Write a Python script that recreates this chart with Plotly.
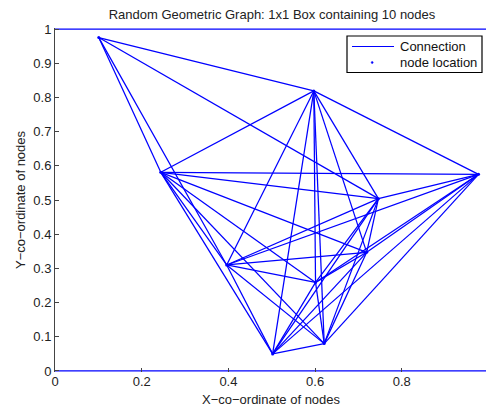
import plotly.graph_objects as go

# Node coordinates in the unit square
node_x = [0.101, 0.597, 0.244, 0.977, 0.746, 0.396, 0.719, 0.601, 0.621, 0.502]
node_y = [0.975, 0.819, 0.581, 0.575, 0.504, 0.310, 0.347, 0.259, 0.080, 0.050]

# Connections (pairs of node indices)
edges = [
    (0, 1), (0, 2), (0, 4), (0, 5),
    (1, 2), (1, 3), (1, 4), (1, 5), (1, 6), (1, 7), (1, 8), (1, 9),
    (2, 3), (2, 4), (2, 5), (2, 6), (2, 7), (2, 8), (2, 9),
    (3, 4), (3, 5), (3, 6), (3, 7), (3, 8), (3, 9),
    (4, 5), (4, 6), (4, 7), (4, 8), (4, 9),
    (5, 6), (5, 7), (5, 8), (5, 9),
    (6, 7), (6, 8), (6, 9),
    (7, 8), (7, 9),
    (8, 9),
]

# Boundary of the 1x1 box (top and bottom sides)
box_x = [0, 1, None, 0, 1]
box_y = [1, 1, None, 0, 0]

legend_labels = ["Connection", "node location"]

BLUE = "#0000ff"
FONT = "Liberation Sans, Arial, Helvetica, sans-serif"
W, H = 486, 407
ML, MR, MT, MB = 55, 0, 28, 35

ex, ey = [], []
for a, b in edges:
    ex += [node_x[a], node_x[b], None]
    ey += [node_y[a], node_y[b], None]

fig = go.Figure()
fig.add_trace(go.Scatter(
    x=box_x, y=box_y, mode="lines", line=dict(color=BLUE, width=1.3),
    showlegend=False, hoverinfo="skip", cliponaxis=False,
))
fig.add_trace(go.Scatter(
    x=ex, y=ey, mode="lines", name=legend_labels[0],
    line=dict(color=BLUE, width=1.25), showlegend=False,
))
fig.add_trace(go.Scatter(
    x=node_x, y=node_y, mode="markers", name=legend_labels[1],
    marker=dict(color=BLUE, size=3), showlegend=False,
))


# pixel -> paper helpers for the legend box and axis titles
def px(x):
    return (x - ML) / (W - ML - MR)


def py(y):
    return (H - MB - y) / (H - MT - MB)


shapes = [
    dict(type="rect", xref="paper", yref="paper",
         x0=px(347), x1=px(482), y0=py(72.5), y1=py(36),
         line=dict(color="black", width=1.2), fillcolor="white", layer="above"),
    dict(type="line", xref="paper", yref="paper",
         x0=px(352), x1=px(394), y0=py(46.5), y1=py(46.5),
         line=dict(color=BLUE, width=1.2), layer="above"),
    dict(type="circle", xref="paper", yref="paper",
         x0=px(371.2), x1=px(373.2), y0=py(63.5), y1=py(61.5),
         line=dict(color=BLUE, width=0.5), fillcolor=BLUE, layer="above"),
]

annotations = [
    dict(text=legend_labels[0], xref="paper", yref="paper",
         x=px(398), y=py(46.5), xanchor="left", yanchor="middle",
         showarrow=False, font=dict(size=13, color="#111111")),
    dict(text=legend_labels[1], xref="paper", yref="paper",
         x=px(398), y=py(62.5), xanchor="left", yanchor="middle",
         showarrow=False, font=dict(size=13, color="#111111")),
    dict(text="X\u2212co\u2212ordinate of nodes", xref="paper", yref="paper",
         x=px(271), y=py(399), xanchor="center", yanchor="middle",
         showarrow=False, font=dict(size=13, color="#222222")),
    dict(text="Y\u2212co\u2212ordinate of nodes", xref="paper", yref="paper",
         x=px(20), y=py(200), xanchor="center", yanchor="middle",
         textangle=-90, showarrow=False, font=dict(size=13, color="#222222")),
]

fig.update_layout(
    width=W, height=H,
    margin=dict(l=ML, r=MR, t=MT, b=MB),
    paper_bgcolor="white", plot_bgcolor="white",
    font=dict(family=FONT, size=13, color="#222222"),
    title=dict(
        text="Random Geometric Graph: 1x1 Box containing 10 nodes",
        x=px(272), xref="paper", xanchor="center",
        y=1 - 14 / H, yref="container", yanchor="middle",
        font=dict(size=13, color="#222222"),
    ),
    showlegend=False,
    shapes=shapes,
    annotations=annotations,
    xaxis=dict(
        range=[0, 0.9942], tickvals=[0, 0.2, 0.4, 0.6, 0.8],
        ticktext=["0", "0.2", "0.4", "0.6", "0.8"],
        ticks="inside", ticklen=4, tickcolor="#444444",
        showline=False, showgrid=False, zeroline=False,
    ),
    yaxis=dict(
        range=[-0.003, 1.003],
        tickvals=[0, 0.1, 0.2, 0.3, 0.4, 0.5, 0.6, 0.7, 0.8, 0.9, 1],
        ticktext=["0", "0.1", "0.2", "0.3", "0.4", "0.5", "0.6", "0.7",
                  "0.8", "0.9", "1"],
        ticks="inside", ticklen=4, tickcolor="#444444",
        showline=True, linecolor="#444444", linewidth=1,
        showgrid=False, zeroline=False,
    ),
)

fig.write_html("out.html")
